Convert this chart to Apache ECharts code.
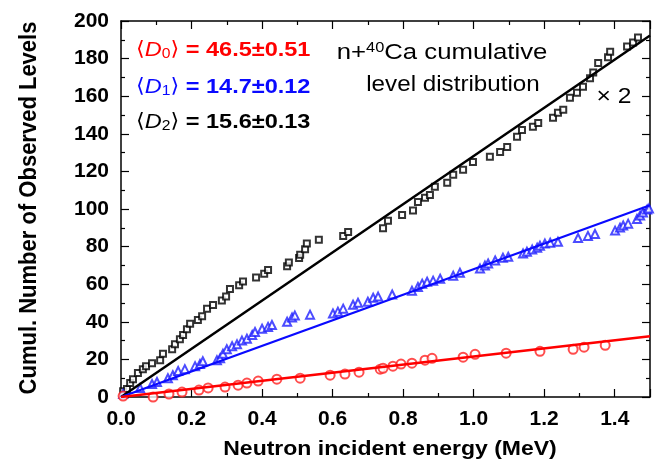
<!DOCTYPE html>
<html><head><meta charset="utf-8">
<script src="https://cdn.jsdelivr.net/npm/echarts@6/dist/echarts.min.js"></script>
</head><body style="margin:0;background:#fff">
<div id="c" style="width:656px;height:463px"></div>
<script>
// Black squares (x2 scaled cumulative, D2)
const sqX = [0.006,0.017,0.026,0.034,0.048,0.062,0.071,0.088,0.111,0.119,0.145,0.153,0.167,0.176,0.187,0.196,0.218,0.230,0.244,0.261,0.286,0.298,0.309,0.335,0.346,0.383,0.406,0.417,0.471,0.476,0.505,0.508,0.522,0.527,0.561,0.630,0.644,0.743,0.757,0.797,0.828,0.842,0.862,0.876,0.890,0.925,0.942,0.970,0.998,1.046,1.075,1.095,1.123,1.137,1.168,1.183,1.225,1.239,1.254,1.273,1.293,1.310,1.330,1.339,1.353,1.381,1.387,1.435,1.452,1.466];
const sqY = [3,4.2,7.4,9.5,12.7,14.8,16.4,18,19.6,23,25.4,28,30.7,33,36,39,41,43,47,49,51.3,53.4,57.4,59.5,61.5,63.5,65.5,67.5,69.5,71.6,74,75.6,78.6,81.6,83.6,85.6,87.7,89.7,93.7,96.8,99.2,103.7,106,107.5,111.8,114,118.2,120.9,125,127.8,130.3,133,138.4,142,143.7,145.8,148.5,151.2,152.8,159.2,161.9,165,169.6,172.6,177.7,180.7,183.7,186.4,188.5,191.2];
// Blue triangles (D1)
const triX = [0.006,0.054,0.088,0.102,0.133,0.147,0.162,0.181,0.210,0.224,0.232,0.272,0.281,0.289,0.300,0.315,0.329,0.343,0.357,0.372,0.380,0.400,0.417,0.428,0.471,0.485,0.493,0.536,0.601,0.615,0.630,0.658,0.672,0.700,0.715,0.729,0.769,0.825,0.842,0.854,0.868,0.885,0.905,0.942,0.961,1.018,1.032,1.041,1.061,1.083,1.098,1.140,1.151,1.166,1.180,1.188,1.202,1.217,1.239,1.296,1.324,1.344,1.401,1.415,1.424,1.438,1.463,1.472,1.480,1.492,1.497];
const triY = [1.6,4.8,6.9,8,10,11.6,13.8,14.8,16.4,17.5,19,19.6,20.6,23,25.4,27,28,30,31,33,34.6,36.3,37.3,38.3,40,42.3,43.3,43.8,44.4,45.4,47,49.1,50.1,50.7,52.8,53.4,54.5,56.5,58.5,60.3,61.3,61.9,62.9,64.5,66.1,68.3,69.9,71,72.6,74.1,74.6,76.3,77.3,78.4,79.4,80.5,81.6,82.1,82.6,84.6,85.7,86.7,88.5,90.1,91.2,92.2,94.7,96.5,98.1,99.8,100.3];
// Red circles (D0)
const cirX = [0.006,0.091,0.136,0.173,0.221,0.247,0.295,0.332,0.357,0.389,0.442,0.508,0.593,0.635,0.675,0.735,0.743,0.771,0.794,0.825,0.862,0.882,0.970,1.004,1.092,1.188,1.282,1.313,1.373];
const cirY = [0.5,0,1.6,2.6,3.7,4.8,5.3,6.3,7.4,8.5,9.5,10,11.6,12.2,13.2,14.8,15.3,16.4,17.5,18,19.6,20.6,21.2,22.7,23.3,24.3,25.4,26.5,27.5];
// Fitted lines
const fitX = [0, 1.5];
const fitBlack = [0, 192.3];
const fitBlue = [0, 102.0];
const fitRed = [0, 32.3];
const xTickLabels = ['0.0','0.2','0.4','0.6','0.8','1.0','1.2','1.4'];

const zip = (a,b)=>a.map((v,i)=>[v,b[i]]);
const FONT = '"Liberation Sans","DejaVu Sans",Arial,sans-serif';
const chart = echarts.init(document.getElementById('c'));

const axisCommon = {
  type:'value',
  axisLine:{show:true,onZero:false,lineStyle:{color:'#000',width:1.5}},
  axisTick:{show:true,inside:true,length:8,lineStyle:{color:'#000',width:1.2}},
  minorTick:{show:true,splitNumber:2,length:4,lineStyle:{color:'#000',width:1.2}},
  splitLine:{show:false}
};

const legendRich = {
  br:{fontFamily:'"DejaVu Sans",sans-serif',fontSize:20,fontWeight:'normal'},
  d:{fontFamily:FONT,fontSize:21,fontStyle:'italic',fontWeight:'normal'},
  s:{fontFamily:FONT,fontSize:14,fontWeight:'normal',padding:[8,0,0,0]},
  v:{fontFamily:FONT,fontSize:21,fontWeight:'bold'}
};
function legendText(idx, val, color, y){
  return {
    type:'text', x:136, y:y, scaleX:1.12,
    style:{
      text:'{br|\u27E8}{d|D}{s|'+idx+'}{br|\u27E9}{v| = '+val+'}',
      fill:color, rich:legendRich, font:'bold 21px '+FONT,
      textVerticalAlign:'middle', verticalAlign:'middle'
    }
  };
}

chart.setOption({
  animation:false,
  grid:{left:121,right:6,top:21,bottom:66},
  xAxis:[
    Object.assign({}, axisCommon, {
      min:0,max:1.5,interval:0.2,position:'bottom',
      axisLabel:{margin:12,fontFamily:FONT,fontSize:21,fontWeight:'bold',color:'#000',
        formatter:(v)=>{const i=Math.round(v/0.2); return (Math.abs(v-i*0.2)<1e-6 && i<xTickLabels.length)?xTickLabels[i]:'';}}
    }),
    Object.assign({}, axisCommon, {
      min:0,max:1.5,interval:0.2,position:'top',axisLabel:{show:false}
    })
  ],
  yAxis:[
    Object.assign({}, axisCommon, {
      min:0,max:200,interval:20,position:'left',
      axisLabel:{margin:12,fontFamily:FONT,fontSize:21,fontWeight:'bold',color:'#000'}
    }),
    Object.assign({}, axisCommon, {
      min:0,max:200,interval:20,position:'right',axisLabel:{show:false}
    })
  ],
  series:[
    {type:'scatter',data:zip(sqX,sqY),symbol:'emptyRect',symbolSize:6,
      itemStyle:{color:'#000',borderColor:'#000',borderWidth:1},z:3},
    {type:'scatter',data:zip(triX,triY),symbol:'emptyTriangle',symbolSize:8,
      itemStyle:{color:'#1f1fff',borderColor:'#1f1fff',borderWidth:1},z:3},
    {type:'scatter',data:zip(cirX,cirY),symbol:'emptyCircle',symbolSize:9,
      itemStyle:{color:'#ff2020',borderColor:'#ff2020',borderWidth:1},z:3},
    {type:'line',data:zip(fitX,fitBlack),symbol:'none',lineStyle:{color:'#000',width:2.5},z:4},
    {type:'line',data:zip(fitX,fitBlue),symbol:'none',lineStyle:{color:'#0a0aff',width:2.2},z:4},
    {type:'line',data:zip(fitX,fitRed),symbol:'none',lineStyle:{color:'#ff0000',width:2.5},z:4}
  ],
  graphic:[
    legendText('0','46.5\u00B10.51','#ff0000',50),
    legendText('1','14.7\u00B10.12','#0a0aff',87),
    legendText('2','15.6\u00B10.13','#000000',122),
    {type:'text',x:442,y:53,scaleX:1.17,style:{
      text:'{a|n+}{sup|40}{a|Ca cumulative}',
      rich:{a:{fontFamily:FONT,fontSize:22,fill:'#000'},sup:{fontFamily:FONT,fontSize:14,fill:'#000',padding:[0,0,9,0]}},
      font:'22px '+FONT,fill:'#000',textAlign:'center',align:'center',textVerticalAlign:'middle',verticalAlign:'middle'}},
    {type:'text',x:453,y:85,scaleX:1.1,style:{text:'level distribution',font:'22px '+FONT,fill:'#000',
      textAlign:'center',align:'center',textVerticalAlign:'middle',verticalAlign:'middle'}},
    {type:'text',x:614,y:97,scaleX:1.12,style:{text:'\u00D7 2',font:'22px '+FONT,fill:'#000',
      textAlign:'center',align:'center',textVerticalAlign:'middle',verticalAlign:'middle'}},
    {type:'text',x:390,y:449,scaleX:1.15,style:{text:'Neutron incident energy (MeV)',font:'bold 20px '+FONT,fill:'#000',
      textAlign:'center',align:'center',textVerticalAlign:'middle',verticalAlign:'middle'}},
    {type:'text',x:29,y:208,rotation:Math.PI/2,scaleY:1.12,style:{text:'Cumul. Number of Observed Levels',font:'bold 22px '+FONT,fill:'#000',
      textAlign:'center',align:'center',textVerticalAlign:'middle',verticalAlign:'middle'}}
  ]
});
</script>
</body></html>
